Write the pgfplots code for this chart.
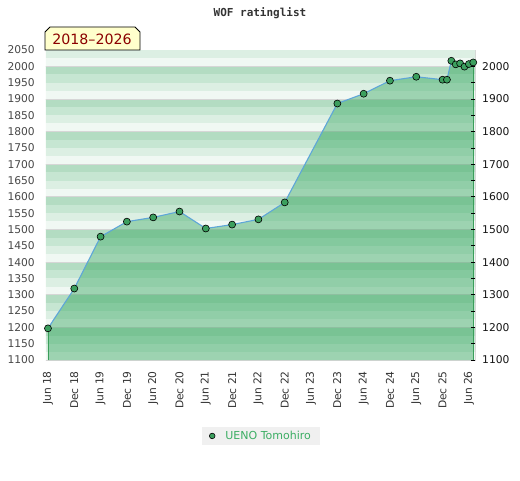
\documentclass[border=0pt]{standalone}
\usepackage{pgfplots}
\pgfplotsset{compat=1.18}
\usepackage{pgfplotstable}
\usepackage{fontspec}
\setmainfont{DejaVu Sans}
\newfontfamily\monob{DejaVu Sans Mono}
\definecolor{bA}{HTML}{F0F8F3}
\definecolor{bB}{HTML}{DCEFE3}
\definecolor{bC}{HTML}{C6E6D2}
\definecolor{bD}{HTML}{B3DCC2}
\definecolor{gridgray}{HTML}{D6D6D6}
\definecolor{areagreen}{HTML}{28A054}
\definecolor{edgegreen}{HTML}{3A9E5A}
\definecolor{linecol}{HTML}{5EA6D8}
\definecolor{markfill}{HTML}{3C9F5E}
\definecolor{legtext}{HTML}{3CAE64}
\definecolor{legbg}{HTML}{F0F0F0}
\definecolor{boxfill}{HTML}{FFFFCC}
\definecolor{boxtext}{HTML}{8B0000}

\pgfplotstableread{
m v
0 1197
6 1319
12 1478
18 1524
24 1537
30 1555
36 1503
42 1515
48 1531
54 1583
66 1886
72 1916
78 1956
84 1968
90 1959
91 1959
92 2017
93 2006
94 2009
95 1999
96 2007
97 2012
}\ratings

\begin{document}
\begin{tikzpicture}
\path[use as bounding box] (0,0) rectangle (520pt,480pt);
\begin{axis}[
  at={(46pt,120pt)}, anchor=south west, scale only axis,
  width=429pt, height=310pt,
  xmin=-0.45, xmax=97.4, ymin=1100, ymax=2050,
  axis line style={draw=gridgray},
  xtick={0,6,...,96},
  xticklabels={Jun 18,Dec 18,Jun 19,Dec 19,Jun 20,Dec 20,Jun 21,Dec 21,Jun 22,Dec 22,Jun 23,Dec 23,Jun 24,Dec 24,Jun 25,Dec 25,Jun 26},
  xticklabel style={rotate=90, anchor=east, inner sep=0pt, font=\fontsize{10.7}{12}\selectfont, text=black!80},
  xticklabel shift=11pt,
  ytick={1100,1150,...,2050},
  yticklabel style={anchor=east, inner sep=0pt, font=\fontsize{10.7}{12}\selectfont, text=black!72},
  yticklabel shift=11pt,
  tick style={draw=none},
  /pgf/number format/assume math mode=true,
  /pgf/number format/1000 sep={},
  legend style={at={(0.501,-0.245)}, anchor=center, fill=legbg, draw=none,
    font=\fontsize{11}{12}\selectfont, text=legtext, inner xsep=7.5pt, inner ysep=2.5pt},
  legend image code/.code={\draw[black, fill=markfill, line width=0.6pt] (3pt,0pt) circle (2.8pt); \path (0pt,0pt) (14pt,0pt);},
]
\pgfplotsinvokeforeach{11,12,...,20}{
  \fill[bA] (axis cs:-1,#100) rectangle (axis cs:98,#125);
  \fill[bB] (axis cs:-1,#125) rectangle (axis cs:98,#150);
  \fill[bC] (axis cs:-1,#150) rectangle (axis cs:98,#175);
  \fill[bD] (axis cs:-1,#175) rectangle (axis cs:98,#199.99);
}
\pgfplotsinvokeforeach{11,12,...,20}{
  \draw[gridgray, line width=0.8pt] (axis cs:-1,#100) -- (axis cs:98,#100);
}
\addplot[draw=none, fill=areagreen, fill opacity=0.41, forget plot] table {\ratings} \closedcycle;
\addplot[edgegreen, line width=0.9pt, forget plot] coordinates {(0,1100) (0,1197)};
\addplot[edgegreen, line width=0.9pt, forget plot] coordinates {(97,1100) (97,2012)};
\addplot[linecol, line width=1.1pt, forget plot] table {\ratings};
\addplot[only marks, mark=*, mark size=3.5pt, mark options={fill=markfill, draw=black, line width=0.6pt}] table {\ratings};
\addlegendentry{UENO Tomohiro}
\end{axis}
\begin{axis}[
  at={(46pt,120pt)}, anchor=south west, scale only axis,
  width=429pt, height=310pt,
  xmin=-0.45, xmax=97.4, ymin=1100, ymax=2050,
  hide x axis, axis y line*=right, axis line style={draw=none},
  ytick={1100,1200,...,2000},
  minor ytick={1150,1250,...,1950},
  tick style={black, line width=0.7pt},
  major tick length=4pt, minor tick length=4pt, tick align=inside,
  yticklabel style={anchor=west, inner sep=0pt, font=\fontsize{10.7}{12}\selectfont, text=black!92},
  yticklabel shift=7pt,
  /pgf/number format/assume math mode=true,
  /pgf/number format/1000 sep={},
]
\addplot[draw=none] coordinates {(0,1100)};
\end{axis}
\node[font=\monob\bfseries\fontsize{11}{13}\selectfont, text=black!80] at (260pt,467pt) {WOF ratinglist};
\draw[black, line width=0.8pt, fill=boxfill] (45pt,430pt) -- (45pt,448pt) -- (50pt,453pt) -- (135pt,453pt) -- (140pt,448pt) -- (140pt,430pt) -- cycle;
\node[font=\fontsize{14.2}{15}\selectfont, text=boxtext] at (92pt,440.5pt) {2018–2026};
\end{tikzpicture}
\end{document}
